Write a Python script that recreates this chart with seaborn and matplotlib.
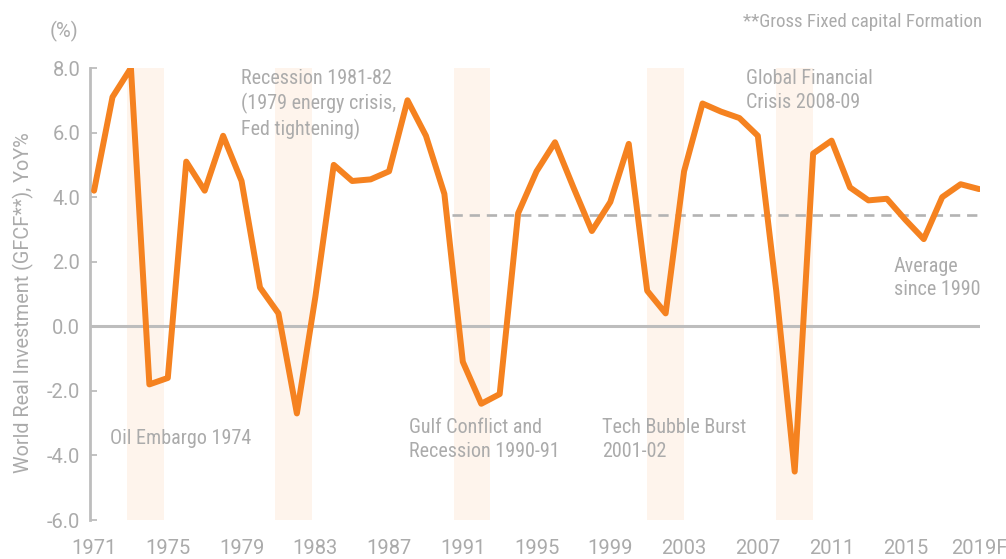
import matplotlib
matplotlib.use("Agg")
import matplotlib.pyplot as plt
from matplotlib import font_manager as fm
import seaborn as sns
import pandas as pd

# ---------------- data ----------------
years = list(range(1971, 2020))
investment_yoy = [
    4.2, 7.1, 8.0, -1.8, -1.6, 5.1, 4.2, 5.9, 4.5, 1.2,      # 1971-1980
    0.4, -2.7, 0.9, 5.0, 4.5, 4.55, 4.8, 7.0, 5.9, 4.1,      # 1981-1990
    -1.1, -2.4, -2.1, 3.5, 4.8, 5.7, 4.3, 2.95, 3.85, 5.65,  # 1991-2000
    1.1, 0.4, 4.8, 6.9, 6.65, 6.45, 5.9, 1.1, -4.5, 5.35,    # 2001-2010
    5.75, 4.3, 3.9, 3.95, 3.3, 2.7, 4.0, 4.4, 4.25,          # 2011-2019
]
avg_since_1990 = 3.45
avg_start_year = 1990.4

band_starts = [1972.77, 1980.8, 1990.5, 2000.97, 2008.0]
band_ends = [1974.77, 1982.8, 1992.5, 2002.97, 2010.0]

xtick_years = [1971, 1975, 1979, 1983, 1987, 1991, 1995, 1999, 2003, 2007, 2011, 2015, 2019]
xtick_labels = ["1971", "1975", "1979", "1983", "1987", "1991", "1995", "1999",
                "2003", "2007", "2011", "2015", "2019F"]
ytick_values = [8, 6, 4, 2, 0, -2, -4, -6]
ytick_labels = ["8.0", "6.0", "4.0", "2.0", "0.0", "-2.0", "-4.0", "-6.0"]

annotation_texts = [
    "Recession 1981-82\n(1979 energy crisis,\nFed tightening)",
    "Global Financial\nCrisis 2008-09",
    "Oil Embargo 1974",
    "Gulf Conflict and\nRecession 1990-91",
    "Tech Bubble Burst\n2001-02",
    "Average\nsince 1990",
]
annotation_x = [1978.97, 2006.36, 1971.87, 1988.08, 1998.55, 2014.38]
annotation_y = [7.96, 7.96, -3.47, -3.5, -3.5, 1.5]
annotation_va = ["top", "top", "center", "center", "center", "center"]

df = pd.DataFrame({"year": years, "yoy": investment_yoy})

# ---------------- fonts ----------------
_names = {f.name for f in fm.fontManager.ttflist}


def pick(prefs):
    for p in prefs:
        if p in _names:
            return p
    return "DejaVu Sans"


COND = pick(["Roboto Condensed", "Fira Sans Condensed", "Barlow Semi Condensed",
             "Archivo Narrow", "PT Sans Narrow", "Liberation Sans Narrow", "Roboto"])
REG = pick(["Roboto", "Liberation Sans", "DejaVu Sans"])

# ---------------- style ----------------
sns.set_theme(style="white")
plt.rcParams["font.family"] = [REG, "DejaVu Sans"]
plt.rcParams["axes.unicode_minus"] = False

ORANGE = "#F58220"
GREY_TXT = "#ABABAB"
GREY_LINE = "#BDBDBD"
BAND = "#FEF4EC"

fig = plt.figure(figsize=(10.06, 5.59), dpi=100)
ax = fig.add_axes([90 / 1006, 1 - 520 / 559, 890 / 1006, 452 / 559])

for s, e in zip(band_starts, band_ends):
    ax.axvspan(s, e, color=BAND, lw=0, zorder=0)

ax.axhline(0, color=GREY_LINE, lw=2.2, zorder=1)

ax.plot([avg_start_year, years[-1]], [avg_since_1990, avg_since_1990],
        color="#B3B3B3", lw=1.9, dashes=(3.9, 2.6), zorder=2)

sns.lineplot(data=df, x="year", y="yoy", ax=ax, color=ORANGE, lw=4.3,
             zorder=3, solid_joinstyle="round", solid_capstyle="round")

ax.set_xlim(1970.78, 2019.05)
ax.set_ylim(-6, 8)

ax.set_xticks(xtick_years)
ax.set_xticklabels(xtick_labels)
ax.set_yticks(ytick_values)
ax.set_yticklabels(ytick_labels)

ax.tick_params(axis="x", length=0, pad=14, labelsize=14.5, labelcolor=GREY_TXT)
ax.tick_params(axis="y", direction="in", length=5, width=1.3, color=GREY_LINE,
               pad=7, labelsize=14.5, labelcolor=GREY_TXT, left=True)

for side in ["top", "right", "bottom"]:
    ax.spines[side].set_visible(False)
ax.spines["left"].set_color(GREY_LINE)
ax.spines["left"].set_linewidth(2.0)

ax.set_xlabel("")
ax.set_ylabel("World Real Investment (GFCF**), YoY%", fontsize=14.3, color=GREY_TXT)
ax.yaxis.set_label_coords(-0.0753, 0.48)
ax.yaxis.label.set_verticalalignment("center")

for txt, x, y, va in zip(annotation_texts, annotation_x, annotation_y, annotation_va):
    ax.text(x, y, txt, ha="left", va=va, fontsize=14.5, color=GREY_TXT,
            family=[COND, "DejaVu Sans"], linespacing=1.3, zorder=4)

fig.text(64 / 1006, 1 - 31 / 559, "(%)", ha="center", va="center",
         fontsize=14.5, color=GREY_TXT)
fig.text(982 / 1006, 1 - 22 / 559, "**Gross Fixed capital Formation", ha="right",
         va="center", fontsize=13.6, color=GREY_TXT, family=[COND, "DejaVu Sans"])

fig.savefig("out.png", dpi=100)
